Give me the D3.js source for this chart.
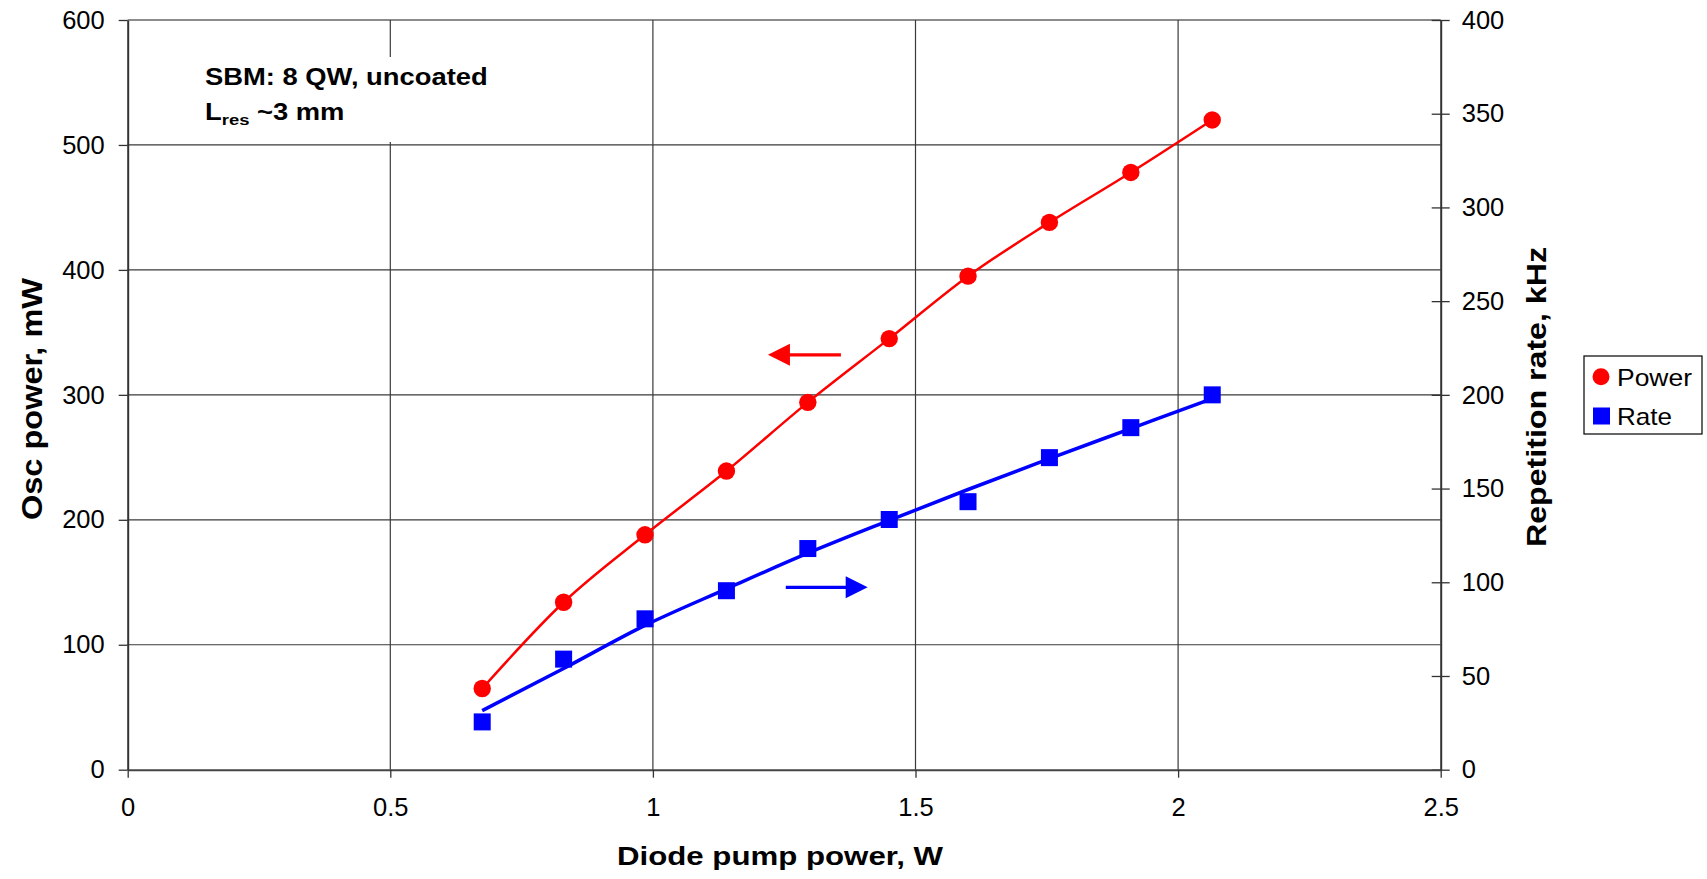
<!DOCTYPE html>
<html><head><meta charset="utf-8">
<script src="https://cdn.jsdelivr.net/npm/d3@7"></script>
<style>
html,body{margin:0;padding:0;background:#fff;}
svg{display:block;font-family:"Liberation Sans",Arial,sans-serif;}
</style></head>
<body>
<svg id="chart" width="1707" height="879"></svg>
<script>
// ---- data ----
const pumpPower = [0.675, 0.83, 0.985, 1.14, 1.295, 1.45, 1.6, 1.755, 1.91, 2.065]; // W
const oscPower  = [65, 134, 188, 239, 294, 345, 395, 438, 478, 520];                // mW
const repRate   = [25.5, 59, 80.5, 95.5, 118, 133.5, 143, 166.5, 182.5, 200];        // kHz
const rateTrend = [31.5, 54, 77, 96.5, 115.5, 133, 149.5, 166, 182, 198];           // kHz (trend line)
const xTicks = [0, 0.5, 1, 1.5, 2, 2.5];
const yLeftTicks = [0, 100, 200, 300, 400, 500, 600];
const yRightTicks = [0, 50, 100, 150, 200, 250, 300, 350, 400];
const seriesNames = ["Power", "Rate"];
const arrowPower = {x0: 1.358, x1: 1.219, y: 332};   // mW axis
const arrowRate  = {x0: 1.253, x1: 1.409, y: 97.3};  // kHz axis

// ---- layout ----
const L = 127.7, R = 1440.7, T = 20, B = 769.7;
const svg = d3.select("#chart");
const x = d3.scaleLinear().domain([0, 2.5]).range([L, R]);
const yL = d3.scaleLinear().domain([0, 600]).range([B, T]);
const yR = d3.scaleLinear().domain([0, 400]).range([B, T]);
const red = "#ff0000", blue = "#0000ff";
const gridCol = "#3a3a3a";
const FONT = "'Liberation Sans',Arial,sans-serif";

// gridlines horizontal
svg.append("g").selectAll("line").data(yLeftTicks.filter(d => d > 0 && d < 600)).join("line")
  .attr("x1", L).attr("x2", R).attr("y1", d => yL(d)).attr("y2", d => yL(d))
  .attr("stroke", gridCol).attr("stroke-width", 1.2);
// top border
svg.append("line").attr("x1", L).attr("x2", R).attr("y1", T).attr("y2", T)
  .attr("stroke", "#8c8c8c").attr("stroke-width", 2);
// gridlines vertical
svg.append("g").selectAll("line").data(xTicks.filter(d => d > 0 && d < 2.5)).join("line")
  .attr("x1", d => x(d)).attr("x2", d => x(d)).attr("y1", T).attr("y2", B)
  .attr("stroke", gridCol).attr("stroke-width", 1.2);

// annotation box (hides the grid behind the text)
svg.append("rect").attr("x", 196).attr("y", 57).attr("width", 300).attr("height", 85).attr("fill", "#fff");
const ann = svg.append("g").attr("font-weight", "bold").attr("fill", "#000")
  .attr("transform", "translate(205,0) scale(1.19,1)");
ann.append("text").attr("x", 0).attr("y", 85).attr("font-size", 23).text("SBM: 8 QW, uncoated");
const t2 = ann.append("text").attr("x", 0).attr("y", 120).attr("font-size", 23);
t2.append("tspan").text("L");
t2.append("tspan").attr("font-size", 15.5).attr("dy", 5).text("res");
t2.append("tspan").attr("dy", -5).text(" ~3 mm");

// left axis
const axL = svg.append("g").attr("transform", `translate(${L},0)`)
  .call(d3.axisLeft(yL).tickValues(yLeftTicks).tickSize(9).tickSizeOuter(0).tickPadding(14));
// right axis
const axR = svg.append("g").attr("transform", `translate(${R},0)`)
  .call(d3.axisRight(yR).tickValues(yRightTicks).tickSize(9).tickSizeOuter(0).tickPadding(12));
axR.selectAll(".tick line").attr("x1", -9);
// bottom axis
const axB = svg.append("g").attr("transform", `translate(0,${B})`)
  .call(d3.axisBottom(x).tickValues(xTicks).tickSize(8).tickSizeOuter(0).tickPadding(20)
    .tickFormat(d => d3.format("")(d)));
[axL, axR, axB].forEach(a => {
  a.select(".domain").attr("stroke", "#333").attr("stroke-width", 2);
  a.selectAll(".tick line").attr("stroke", "#333").attr("stroke-width", 1.3);
  a.selectAll(".tick text").attr("font-size", 25.5).attr("fill", "#000").attr("font-family", FONT);
});
axB.select(".domain").attr("stroke", "#444");

// axis titles
svg.append("text").attr("x", 780).attr("y", 865).attr("text-anchor", "middle")
  .attr("font-size", 25.5).attr("font-weight", "bold")
  .attr("textLength", 326).attr("lengthAdjust", "spacingAndGlyphs").text("Diode pump power, W");
svg.append("text").attr("transform", `translate(42,${(278 + 520) / 2}) rotate(-90)`)
  .attr("text-anchor", "middle").attr("font-size", 30).attr("font-weight", "bold")
  .attr("textLength", 242).attr("lengthAdjust", "spacingAndGlyphs").text("Osc power, mW");
svg.append("text").attr("transform", `translate(1546,${(247 + 547) / 2}) rotate(-90)`)
  .attr("text-anchor", "middle").attr("font-size", 28).attr("font-weight", "bold")
  .attr("textLength", 300).attr("lengthAdjust", "spacingAndGlyphs").text("Repetition rate, kHz");

// power line + markers
const powerData = pumpPower.map((p, i) => [p, oscPower[i]]);
svg.append("path").datum(powerData)
  .attr("d", d3.line().x(d => x(d[0])).y(d => yL(d[1])).curve(d3.curveMonotoneX))
  .attr("fill", "none").attr("stroke", red).attr("stroke-width", 2.5);
// rate trend line
const trendData = pumpPower.map((p, i) => [p, rateTrend[i]]);
svg.append("path").datum(trendData)
  .attr("d", d3.line().x(d => x(d[0])).y(d => yR(d[1])).curve(d3.curveMonotoneX))
  .attr("fill", "none").attr("stroke", blue).attr("stroke-width", 3.5);

svg.append("g").selectAll("circle").data(powerData).join("circle")
  .attr("cx", d => x(d[0])).attr("cy", d => yL(d[1])).attr("r", 8.7).attr("fill", red);
const sq = 17;
svg.append("g").selectAll("rect").data(pumpPower.map((p, i) => [p, repRate[i]])).join("rect")
  .attr("x", d => x(d[0]) - sq / 2).attr("y", d => yR(d[1]) - sq / 2)
  .attr("width", sq).attr("height", sq).attr("fill", blue);

// arrows
function arrow(x0, x1, yy, col) {
  const dir = Math.sign(x1 - x0), head = 22, hh = 11;
  svg.append("line").attr("x1", x0).attr("x2", x1 - dir * head + dir * 2).attr("y1", yy).attr("y2", yy)
    .attr("stroke", col).attr("stroke-width", 3.3);
  svg.append("path").attr("d", `M${x1},${yy} L${x1 - dir * head},${yy - hh} L${x1 - dir * head},${yy + hh} Z`)
    .attr("fill", col);
}
arrow(x(arrowPower.x0), x(arrowPower.x1), yL(arrowPower.y), red);
arrow(x(arrowRate.x0), x(arrowRate.x1), yR(arrowRate.y), blue);

// legend
const lg = svg.append("g");
lg.append("rect").attr("x", 1584).attr("y", 356).attr("width", 118).attr("height", 78)
  .attr("fill", "#fff").attr("stroke", "#000").attr("stroke-width", 1.2);
lg.append("circle").attr("cx", 1601).attr("cy", 376.7).attr("r", 8.5).attr("fill", red);
lg.append("rect").attr("x", 1601.5 - 8.5).attr("y", 416 - 8.5).attr("width", 17).attr("height", 17).attr("fill", blue);
lg.selectAll("text.lt").data(seriesNames).join("text").attr("class", "lt")
  .attr("x", 1617).attr("y", (d, i) => 385.5 + i * 39).attr("font-size", 24)
  .attr("textLength", (d, i) => i === 0 ? 75 : 55).attr("lengthAdjust", "spacingAndGlyphs").text(d => d);
</script>
</body></html>
